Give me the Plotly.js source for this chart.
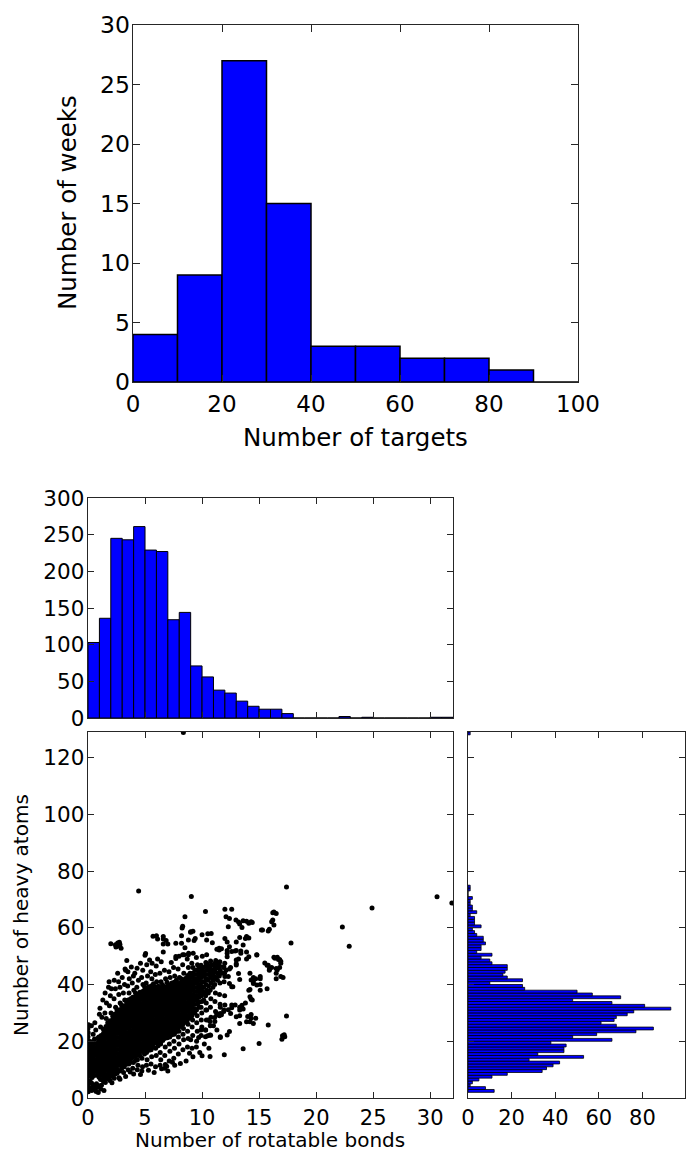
<!DOCTYPE html>
<html>
<head>
<meta charset="utf-8">
<script src="https://cdn.plot.ly/plotly-3.0.1.min.js"></script>
<style>
html,body{margin:0;padding:0;background:#fff;}
#chart{width:686px;height:1151px;}
</style>
</head>
<body>
<div id="chart"></div>
<script>
// ---------- Top chart: weeks per number of targets ----------
const targetBinStart = [0, 10, 20, 30, 40, 50, 60, 70, 80, 90];
const weeksCount = [4, 9, 27, 15, 3, 3, 2, 2, 1, 0];
const targetTicks = [0, 20, 40, 60, 80, 100];

// ---------- Middle histogram: rotatable bonds ----------
const bondBinStart = [0,1,2,3,4,5,6,7,8,9,10,11,12,13,14,15,16,17,18,19,20,21,22,23,24,25,26,27,28,29,30,31];
const bondCount = [103,136,245,243,261,229,227,134,144,71,56,38,34,23,16,12,12,6,0,0,0,0,2,0,1,0,0,0,0,0,1,1];

// ---------- Right histogram: heavy atoms ----------
const atomBinStart = [2,3,4,5,6,7,8,9,10,11,12,13,14,15,16,17,18,19,20,21,22,23,24,25,26,27,28,29,30,31,32,33,34,35,36,37,38,39,40,41,42,43,44,45,46,47,48,49,50,51,52,53,54,55,56,57,58,59,60,61,62,63,64,65,66,67,68,69,70,71,72,73,74,128];
const atomCount = [12,8,1,2,5,11,18,34,36,39,42,28,53,32,44,44,45,38,66,48,59,77,85,68,61,67,68,73,76,93,81,66,48,70,57,50,26,25,10,25,18,16,17,18,18,11,10,6,11,4,6,6,8,7,7,4,3,2,6,3,3,3,1,4,2,2,1,1,2,0,0,1,1,1];

// ---------- Scatter: [rotatable bonds, heavy atoms] ----------
const scatterPoints = [
[0.02,2.2],[0.05,3.4],[0,4.8],[0.03,6.2],[0,7.6],[0.06,9],[0,10.4],[0.04,11.8],[0,13.2],[0.05,14.6],[0,16],[0.03,17.4],[0,18.8],[0.06,20.2],[0,21.6],[0.02,23],[0,24.4],[0.05,25.8],
[0.33,2.6],[0.38,4.0],[0.31,5.3],[0.36,7.2],[0.4,8.6],[0.32,10],[0.37,11.4],[0.34,12.8],[0.41,14.2],[0.3,15.6],[0.36,17],[0.39,18.4],[0.33,19.8],[0.45,22.5],[0.3,25.5],
[0.72,2.3],[0.78,3.7],[0.74,5],[0.8,8],[0.71,9.4],[0.77,10.8],[0.73,12.2],[0.79,13.6],[0.75,15],[0.7,16.4],[0.78,17.8],[0.74,19.2],[0.82,21],[0.68,24],
[1.12,3.2],[1.18,4.5],[1.1,6.5],[1.16,8],[1.2,9.4],[1.13,10.8],[1.17,12.2],[1.11,13.6],[1.19,15],[1.14,16.4],[1.16,17.8],[1.12,19.2],[1.2,20.6],[1.15,22],[1.1,25],[1.22,28.5],[1.05,31.6],
[1.52,5.5],[1.58,7],[1.5,8.4],[1.57,9.8],[1.53,11.2],[1.6,12.6],[1.51,14],[1.56,15.4],[1.54,16.8],[1.59,18.2],[1.52,19.6],[1.57,21],[1.55,22.4],[1.5,23.8],[1.58,25.2],[1.6,28],[1.48,30],[1.62,33.5],[1.5,37],
[1.92,6.2],[1.98,7.6],[1.93,9],[1.97,10.4],[1.9,11.8],[1.99,13.2],[1.94,14.6],[1.96,16],[1.91,17.4],[2.0,18.8],[1.95,20.2],[1.93,21.6],[1.98,23],[1.92,24.4],[1.97,25.8],[1.94,27.2],[2.02,30],[1.88,32.5],[1.96,36],[2.05,38.5],[1.85,41],
[2.3,7],[2.38,8.5],[2.33,10],[2.37,11.4],[2.31,12.8],[2.39,14.2],[2.34,15.6],[2.36,17],[2.32,18.4],[2.4,19.8],[2.35,21.2],[2.33,22.6],[2.38,24],[2.31,25.4],[2.37,26.8],[2.34,28.2],[2.36,29.6],[2.42,32],[2.28,35],[2.4,38.5],[2.3,41.5],
[2.72,7.1],[2.78,9.5],[2.73,11.5],[2.77,12.9],[2.71,14.3],[2.79,15.7],[2.74,17.1],[2.76,18.5],[2.72,19.9],[2.8,21.3],[2.75,22.7],[2.73,24.1],[2.78,25.5],[2.71,26.9],[2.77,28.3],[2.74,29.7],[2.76,31.1],[2.82,33.5],[2.7,36.5],[2.8,39],[2.68,41],
[3.12,9],[3.18,11],[3.13,12.8],[3.17,14.2],[3.11,15.6],[3.19,17],[3.14,18.4],[3.16,19.8],[3.12,21.2],[3.2,22.6],[3.15,24],[3.13,25.4],[3.18,26.8],[3.11,28.2],[3.17,29.6],[3.14,31],[3.16,32.4],[3.22,34.5],[3.1,37],[3.2,40],[3.25,45.5],
[3.52,10],[3.58,12],[3.53,13.5],[3.57,14.9],[3.51,16.3],[3.59,17.7],[3.54,19.1],[3.56,20.5],[3.52,21.9],[3.6,23.3],[3.55,24.7],[3.53,26.1],[3.58,27.5],[3.51,28.9],[3.57,30.3],[3.54,31.7],[3.56,33.1],[3.52,34.5],[3.6,37],[3.48,39.5],[3.62,42],[3.5,44.5],
[3.92,10.5],[3.98,12.5],[3.93,14.5],[3.97,15.9],[3.91,17.3],[3.99,18.7],[3.94,20.1],[3.96,21.5],[3.92,22.9],[4.0,24.3],[3.95,25.7],[3.93,27.1],[3.98,28.5],[3.91,29.9],[3.97,31.3],[3.94,32.7],[3.96,34.1],[3.92,35.5],[4.02,38],[3.88,40.5],[3.98,43],
[4.32,10],[4.38,11.5],[4.33,13.5],[4.37,15.5],[4.31,16.9],[4.39,18.3],[4.34,19.7],[4.36,21.1],[4.32,22.5],[4.4,23.9],[4.35,25.3],[4.33,26.7],[4.38,28.1],[4.31,29.5],[4.37,30.9],[4.34,32.3],[4.36,33.7],[4.32,35.1],[4.38,36.5],[4.28,39],[4.42,41.5],[4.3,45.7],
[4.72,9.5],[4.78,11],[4.73,14],[4.77,16.5],[4.71,17.9],[4.79,19.3],[4.74,20.7],[4.76,22.1],[4.72,23.5],[4.8,24.9],[4.75,26.3],[4.73,27.7],[4.78,29.1],[4.71,30.5],[4.77,31.9],[4.74,33.3],[4.76,34.7],[4.72,36.1],[4.78,37.5],[4.82,40],[4.7,42.5],[4.8,45],
[5.12,11.5],[5.18,13.5],[5.13,16],[5.17,17.5],[5.11,18.9],[5.19,20.3],[5.14,21.7],[5.16,23.1],[5.12,24.5],[5.2,25.9],[5.15,27.3],[5.13,28.7],[5.18,30.1],[5.11,31.5],[5.17,32.9],[5.14,34.3],[5.16,35.7],[5.12,37.1],[5.18,38.5],[5.1,40.5],[5.22,43],[5.15,47],[5.0,50.3],[5.05,50.9],
[5.52,12],[5.58,14.5],[5.53,17],[5.57,18.6],[5.51,20],[5.59,21.4],[5.54,22.8],[5.56,24.2],[5.52,25.6],[5.6,27],[5.55,28.4],[5.53,29.8],[5.58,31.2],[5.51,32.6],[5.57,34],[5.54,35.4],[5.56,36.8],[5.52,38.2],[5.58,39.6],[5.6,42],[5.5,44.5],[5.62,47.5],
[5.92,11],[5.98,15],[5.93,17.5],[5.97,19.6],[5.91,21],[5.99,22.4],[5.94,23.8],[5.96,25.2],[5.92,26.6],[6.0,28],[5.95,29.4],[5.93,30.8],[5.98,32.2],[5.91,33.6],[5.97,35],[5.94,36.4],[5.96,37.8],[5.92,39.2],[6.02,41],[5.9,43.5],[5.98,46.5],
[6.32,11.5],[6.38,13.5],[6.33,16],[6.37,19],[6.31,20.6],[6.39,22],[6.34,23.4],[6.36,24.8],[6.32,26.2],[6.4,27.6],[6.35,29],[6.33,30.4],[6.38,31.8],[6.31,33.2],[6.37,34.6],[6.34,36],[6.36,37.4],[6.32,38.8],[6.4,41],[6.3,44],[6.42,48],
[6.72,10.5],[6.78,11.8],[6.73,15],[6.77,18],[6.71,21],[6.79,22.4],[6.74,23.8],[6.76,25.2],[6.72,26.6],[6.8,28],[6.75,29.4],[6.73,30.8],[6.78,32.2],[6.71,33.6],[6.77,35],[6.74,36.4],[6.76,37.8],[6.72,39.2],[6.8,42],[6.7,45],[6.85,55.5],
[7.12,13],[7.18,16.5],[7.13,19],[7.17,21.5],[7.11,23],[7.19,24.4],[7.14,25.8],[7.16,27.2],[7.12,28.6],[7.2,30],[7.15,31.4],[7.13,32.8],[7.18,34.2],[7.11,35.6],[7.17,37],[7.14,38.4],[7.16,39.8],[7.2,42.5],[7.1,44.5],
[7.52,14],[7.58,17.5],[7.53,20],[7.57,22.5],[7.51,24],[7.59,25.4],[7.54,26.8],[7.56,28.2],[7.52,29.6],[7.6,31],[7.55,32.4],[7.53,33.8],[7.58,35.2],[7.51,36.6],[7.57,38],[7.54,39.4],[7.56,40.8],[7.6,43],[7.5,46],
[7.92,15.5],[7.98,19],[7.93,21.5],[7.97,23.5],[7.91,25],[7.99,26.4],[7.94,27.8],[7.96,29.2],[7.92,30.6],[8.0,32],[7.95,33.4],[7.93,34.8],[7.98,36.2],[7.91,37.6],[7.97,39],[7.94,40.4],[8.02,42.5],[7.9,45.5],[7.98,50],
[8.32,17],[8.38,20.5],[8.33,22.5],[8.37,24.5],[8.31,26],[8.39,27.4],[8.34,28.8],[8.36,30.2],[8.32,31.6],[8.4,33],[8.35,34.4],[8.33,35.8],[8.38,37.2],[8.31,38.6],[8.37,40],[8.34,41.4],[8.4,44],[8.3,47],[8.42,50.5],
[8.72,18],[8.78,21],[8.73,23.5],[8.77,26],[8.71,27.5],[8.79,29],[8.74,30.5],[8.76,32],[8.72,33.4],[8.8,34.8],[8.75,36.2],[8.73,37.6],[8.78,39],[8.71,40.4],[8.77,41.8],[8.74,43.2],[8.8,46],[8.7,49],[8.82,51],
[9.12,17.5],[9.18,22],[9.13,25],[9.17,27.5],[9.11,29],[9.19,30.5],[9.14,32],[9.16,33.5],[9.12,35],[9.2,36.5],[9.15,38],[9.13,39.5],[9.18,41],[9.11,42.5],[9.17,44],[9.2,46],[9.1,47.5],[9.22,51],
[9.52,20],[9.58,23.5],[9.53,26.5],[9.57,29],[9.51,31],[9.59,33],[9.54,34.5],[9.56,36],[9.52,37.5],[9.6,39],[9.55,40.5],[9.53,42],[9.58,43.5],[9.51,45],[9.6,47],[9.5,49.5],
[9.92,22],[9.98,25],[9.93,27.5],[9.97,30],[9.91,32],[9.99,34],[9.94,36],[9.96,38],[9.92,39.5],[10.0,41],[9.95,42.5],[9.93,44],[9.98,45.5],[9.91,46.8],[10.02,50],
[10.32,24],[10.38,27.5],[10.33,31],[10.37,33.5],[10.31,36],[10.39,38],[10.34,40],[10.36,42],[10.32,43.5],[10.4,45],[10.35,46.5],[10.33,47.8],[10.4,50.5],
[10.72,25.5],[10.78,28.5],[10.73,32],[10.77,35],[10.71,38],[10.79,40.5],[10.74,42.5],[10.76,44],[10.72,45.5],[10.8,47],[10.75,48.3],
[11.12,27],[11.18,30.5],[11.13,34],[11.17,37],[11.11,40],[11.19,42.5],[11.14,44.5],[11.16,46],[11.12,47.5],[11.2,48.5],
[11.52,29],[11.58,33],[11.53,36.5],[11.57,40.5],[11.51,43],[11.59,45],[11.54,46.5],[11.56,48],
[11.92,31],[11.98,36],[11.93,41],[11.97,44],[11.91,46],[11.99,47.5],
[0.15,3.1],[0.18,5.9],[0.13,8.3],[0.17,9.7],[0.14,11.1],[0.19,12.5],[0.15,13.9],[0.12,15.3],[0.18,16.7],[0.16,18.1],[0.14,19.5],
[0.55,3.0],[0.58,4.5],[0.53,7.9],[0.57,9.3],[0.54,10.7],[0.59,12.1],[0.55,13.5],[0.52,14.9],[0.58,16.3],[0.56,17.7],[0.54,19.1],[0.57,20.8],
[0.95,4.3],[0.97,7.3],[0.93,8.7],[0.98,10.1],[0.94,11.5],[0.96,12.9],[0.92,14.3],[0.97,15.7],[0.95,17.1],[0.93,18.5],[0.98,19.9],[0.94,21.5],
[1.35,5.9],[1.37,7.4],[1.33,8.8],[1.38,10.2],[1.34,11.6],[1.36,13],[1.32,14.4],[1.37,15.8],[1.35,17.2],[1.33,18.6],[1.38,20],[1.34,21.4],[1.36,22.8],[1.35,24.2],
[1.75,6.8],[1.77,8.2],[1.73,9.6],[1.78,11],[1.74,12.4],[1.76,13.8],[1.72,15.2],[1.77,16.6],[1.75,18],[1.73,19.4],[1.78,20.8],[1.74,22.2],[1.76,23.6],[1.75,25],[1.73,26.5],
[2.15,7.8],[2.17,9.2],[2.13,10.6],[2.18,12],[2.14,13.4],[2.16,14.8],[2.12,16.2],[2.17,17.6],[2.15,19],[2.13,20.4],[2.18,21.8],[2.14,23.2],[2.16,24.6],[2.15,26],[2.13,27.4],[2.17,28.8],
[2.55,8.7],[2.57,10.1],[2.53,11.5],[2.58,12.9],[2.54,14.3],[2.56,15.7],[2.52,17.1],[2.57,18.5],[2.55,19.9],[2.53,21.3],[2.58,22.7],[2.54,24.1],[2.56,25.5],[2.55,26.9],[2.53,28.3],[2.57,29.7],[2.54,31],
[2.95,10.4],[2.97,11.8],[2.93,13.2],[2.98,14.6],[2.94,16],[2.96,17.4],[2.92,18.8],[2.97,20.2],[2.95,21.6],[2.93,23],[2.98,24.4],[2.94,25.8],[2.96,27.2],[2.95,28.6],[2.93,30],[2.97,31.4],[2.94,32.8],
[3.35,11.9],[3.37,13.3],[3.33,14.7],[3.38,16.1],[3.34,17.5],[3.36,18.9],[3.32,20.3],[3.37,21.7],[3.35,23.1],[3.33,24.5],[3.38,25.9],[3.34,27.3],[3.36,28.7],[3.35,30.1],[3.33,31.5],[3.37,32.9],[3.34,34.3],
[3.75,12.6],[3.77,14],[3.73,15.4],[3.78,16.8],[3.74,18.2],[3.76,19.6],[3.72,21],[3.77,22.4],[3.75,23.8],[3.73,25.2],[3.78,26.6],[3.74,28],[3.76,29.4],[3.75,30.8],[3.73,32.2],[3.77,33.6],[3.74,35],
[4.15,13.2],[4.17,14.6],[4.13,16],[4.18,17.4],[4.14,18.8],[4.16,20.2],[4.12,21.6],[4.17,23],[4.15,24.4],[4.13,25.8],[4.18,27.2],[4.14,28.6],[4.16,30],[4.15,31.4],[4.13,32.8],[4.17,34.2],[4.14,35.6],[4.16,37],
[4.55,14.9],[4.57,16.3],[4.53,17.7],[4.58,19.1],[4.54,20.5],[4.56,21.9],[4.52,23.3],[4.57,24.7],[4.55,26.1],[4.53,27.5],[4.58,28.9],[4.54,30.3],[4.56,31.7],[4.55,33.1],[4.53,34.5],[4.57,35.9],[4.54,37.3],
[4.95,15.5],[4.97,16.9],[4.93,18.3],[4.98,19.7],[4.94,21.1],[4.96,22.5],[4.92,23.9],[4.97,25.3],[4.95,26.7],[4.93,28.1],[4.98,29.5],[4.94,30.9],[4.96,32.3],[4.95,33.7],[4.93,35.1],[4.97,36.5],[4.94,37.9],[4.96,39.2],
[5.35,16.8],[5.37,18.2],[5.33,19.6],[5.38,21],[5.34,22.4],[5.36,23.8],[5.32,25.2],[5.37,26.6],[5.35,28],[5.33,29.4],[5.38,30.8],[5.34,32.2],[5.36,33.6],[5.35,35],[5.33,36.4],[5.37,37.8],[5.34,39.2],
[5.75,17.9],[5.77,19.3],[5.73,20.7],[5.78,22.1],[5.74,23.5],[5.76,24.9],[5.72,26.3],[5.77,27.7],[5.75,29.1],[5.73,30.5],[5.78,31.9],[5.74,33.3],[5.76,34.7],[5.75,36.1],[5.73,37.5],[5.77,38.9],[5.74,40.3],
[6.15,18.4],[6.17,19.8],[6.13,21.2],[6.18,22.6],[6.14,24],[6.16,25.4],[6.12,26.8],[6.17,28.2],[6.15,29.6],[6.13,31],[6.18,32.4],[6.14,33.8],[6.16,35.2],[6.15,36.6],[6.13,38],[6.17,39.4],
[6.55,20.3],[6.57,21.7],[6.53,23.1],[6.58,24.5],[6.54,25.9],[6.56,27.3],[6.52,28.7],[6.57,30.1],[6.55,31.5],[6.53,32.9],[6.58,34.3],[6.54,35.7],[6.56,37.1],[6.55,38.5],[6.53,39.9],
[6.95,21.2],[6.97,22.6],[6.93,24],[6.98,25.4],[6.94,26.8],[6.96,28.2],[6.92,29.6],[6.97,31],[6.95,32.4],[6.93,33.8],[6.98,35.2],[6.94,36.6],[6.96,38],[6.95,39.4],[6.93,40.8],
[7.35,22.3],[7.37,23.7],[7.33,25.1],[7.38,26.5],[7.34,27.9],[7.36,29.3],[7.32,30.7],[7.37,32.1],[7.35,33.5],[7.33,34.9],[7.38,36.3],[7.34,37.7],[7.36,39.1],[7.35,40.5],
[7.75,23.4],[7.77,24.8],[7.73,26.2],[7.78,27.6],[7.74,29],[7.76,30.4],[7.72,31.8],[7.77,33.2],[7.75,34.6],[7.73,36],[7.78,37.4],[7.74,38.8],[7.76,40.2],[7.75,41.5],
[8.15,25.2],[8.17,26.6],[8.13,28],[8.18,29.4],[8.14,30.8],[8.16,32.2],[8.12,33.6],[8.17,35],[8.15,36.4],[8.13,37.8],[8.18,39.2],[8.14,40.6],[8.16,42],
[8.55,26.7],[8.57,28.1],[8.53,29.5],[8.58,30.9],[8.54,32.3],[8.56,33.7],[8.52,35.1],[8.57,36.5],[8.55,37.9],[8.53,39.3],[8.58,40.7],[8.54,42.1],
[8.95,28.2],[8.97,29.7],[8.93,31.2],[8.98,32.7],[8.94,34.1],[8.96,35.5],[8.92,36.9],[8.97,38.3],[8.95,39.7],[8.93,41.1],[8.98,42.5],[8.94,44],
[9.35,30],[9.37,31.5],[9.33,33],[9.38,34.5],[9.34,36],[9.36,37.5],[9.32,39],[9.37,40.5],[9.35,42],[9.33,43.5],[9.38,45],
[9.75,32],[9.77,33.8],[9.73,35.5],[9.78,37],[9.74,38.5],[9.76,40],[9.72,41.5],[9.77,43],[9.75,44.5],[9.73,46],
[10.15,34.5],[10.17,37],[10.13,39],[10.18,41],[10.14,43],[10.16,44.5],[10.12,46],
[10.55,37],[10.57,39.5],[10.53,41.5],[10.58,43.5],[10.54,45],[10.56,46.5],
[10.95,39],[10.97,41.5],[10.93,43.5],[10.98,45],[10.94,46.8],
[11.35,41.5],[11.37,44],[11.33,45.8],[11.38,47.2],
[9.5,18],[9.8,16],[10.2,19],[9.2,14.5],[8.6,13],[8.1,12.2],[7.6,11.5],[7.0,9.5],[6.45,10.3],[5.8,9.0],[6.9,11.2],[9.0,20.5],[9.9,24],[11.0,25.5],[11.3,24],[4.0,8.5],[3.3,7.6],[2.8,6.6],[2.1,5.4],[1.4,2.6],[0.9,1.9],[5.3,9.8],[4.6,8.3],[3.7,9.2],[7.4,12.6],[8.9,15.8],[10.6,17.5],[9.7,21.3],
[1.8,39],[2.6,44],[3.0,42.5],[3.8,46.2],[4.1,44],[4.6,47.5],[5.4,48.6],[6.1,49],[6.6,51.5],[7.3,47.8],[7.7,49.9],[7.7,49.2],[8.3,50.5],[8.5,53],[8.8,50.5],[9.3,55.5],[7.7,54.5],[8.2,57.2],[8.2,54.5],[8.8,55.7],[6.6,54.3],[5.7,57],[6.0,57.2],[6.1,56],[6.6,56.9],[6.6,56.0],[7.0,54.3],[9.0,58.6],[9.2,58.8],[0.6,26.5],[1.0,29.5],[1.3,34.5],[3.3,45],[3.4,48.5],
[2.0,54.4],[2.4,54.0],[2.6,54.6],[2.75,54.9],[2.8,54.1],[2.9,52.8],[2.65,53.6],[2.45,53.2],
[10.0,57.5],[10.5,57.9],[10.8,58.0],[10.4,55.7],[10.9,54.7],[9.4,56.2],[9.0,58.4],
[12.1,63.9],[12.4,63.3],[12.97,62.7],[13.3,61.3],[13.5,60.1],[14.1,61.6],[14.4,61.9],[16.3,65.6],[16.5,65.0],[16.1,62.1],[16.3,61.0],[15.3,59.2],[15.8,58.9],
[11.3,52.4],[11.5,52.8],[11.7,52.6],[12.0,56.2],[12.2,55.0],[12.4,53.3],[12.6,51.6],[12.9,51.8],[13.2,49.0],[13.6,53.9],[13.9,51.5],[14.1,49.8],[13.8,56.2],[14.1,56.4],[14.8,50.4],[15.5,47.6],[15.8,46.8],[15.9,45.0],[16.1,46.0],[16.4,49.3],[16.7,48.8],[16.9,48.2],[16.8,46.0],[16.6,45.2],[17.1,42.5],[16.5,42.0],[15.1,42.8],[14.7,42.0],[14.3,41.6],[14.5,41.0],[14.8,39.8],[15.1,38.0],[14.2,35.7],[14.4,34.5],[13.8,33.5],[13.3,32.0],[14.0,28.7],[14.3,28.1],[12.9,32.8],[12.6,31.8],[12.3,31.1],[11.6,32.0],[11.9,30.5],[11.3,29.8],[11.7,29.3],[12.4,40.4],[12.7,39.2],[12.0,42.8],[12.1,45.0],[12.5,46.0],[13.0,47.3],[11.5,44.0],[11.1,42.8],[10.7,46.3],[10.4,47.5],
[17.4,28.9],[17.2,22.3],[17.25,21.6],[15.8,25.7],[14.2,26.9],[14.5,26.3],[13.3,26.3],[12.5,29.8],[13.0,28.6],[11.6,21.6],[10.7,22.2],[13.9,26.9],[13.3,29.0],[14.7,28.1],[12.2,22.2],[12.4,23.4],[10.3,24.0],[10.3,21.6],[10.5,21.9],[10.55,27.5],[10.7,27.0],[10.4,31.0],[11.1,28.4],[11.3,29.3],[11.6,29.8],[12.0,32.8],[12.6,32.8],[13.3,31.0],[13.5,32.7],[13.6,31.4],[14.3,29.4],[14.3,34.8],[14.1,38.0],[14.2,38.2],[12.6,39.2],[13.3,41.8],[13.2,43.9],[12.3,42.8],[12.4,45.5],[11.9,46.3],[12.2,49.8],[11.75,44.0],[15.7,38.5],[15.1,40.0],[15.1,42.0],[14.5,42.5],[14.5,40.4],[14.2,44.0],[13.9,49.0],[13.0,48.6],[13.0,46.9],[13.4,51.0],[13.4,51.8],[13.0,52.0],[13.0,55.0],[12.2,51.0],[12.2,52.0],[11.5,52.2],[13.3,56.6],[13.9,56.9],[15.2,59.2],[15.9,59.5],[16.2,62.7],[16.2,65.3],[14.8,50.5],[15.7,46.8],[15.9,45.5],[16.3,49.6],[16.6,49.6],[16.8,48.8],[16.9,47.5],[16.5,44.0],[16.5,45.6],[13.2,62.0],[13.6,62.5],[13.9,62.3],[14.3,62.1],[12.3,60.4],
[8.36,128.8],[4.44,73.0],[9.06,71.0],[17.4,74.4],[30.6,70.9],[31.9,68.7],[24.9,67.0],[22.3,60.3],[22.9,53.5],[17.8,54.6],[17.05,21.9],[17.0,20.7],[16.9,42.8],[15.0,19.2],[13.6,17.4],[11.95,15.2],[10.0,14.9],[10.7,14.6],[11.6,21.3],[10.75,22.1],[8.5,63.9],[10.3,65.7],[12.0,66.5],[12.6,66.5],[8.3,60.5],[8.25,59.9]
];
const bondsX = scatterPoints.map(p => p[0]);
const atomsY = scatterPoints.map(p => p[1]);

// ---------- styling ----------
const W = 686, H = 1151;
const FONT = "DejaVu Sans";
const BLUE = "#0000ff";
const SPINE = "#262626";
function xd(a, b) { return [a / W, b / W]; }
function yd(top, bottom) { return [1 - bottom / H, 1 - top / H]; }
function axis(extra, fs, tl) {
  return Object.assign({
    showline: true, linecolor: SPINE, linewidth: 1.3, mirror: "allticks",
    ticks: "inside", ticklen: tl, tickwidth: 1, tickcolor: SPINE,
    showgrid: false, zeroline: false, automargin: false, fixedrange: true,
    tickfont: { family: FONT, size: fs, color: "#000" }
  }, extra);
}

const traces = [
  { type: "bar", x: targetBinStart, y: weeksCount, width: 10, offset: 0,
    marker: { color: BLUE, line: { color: "#000", width: 1.5 } },
    xaxis: "x", yaxis: "y", hoverinfo: "skip" },
  { type: "bar", x: bondBinStart, y: bondCount, width: 1, offset: 0,
    marker: { color: BLUE, line: { color: "#000", width: 1 } },
    xaxis: "x2", yaxis: "y2", hoverinfo: "skip" },
  { type: "scatter", mode: "markers", x: bondsX, y: atomsY,
    marker: { color: "#000", size: 5, line: { width: 0 } },
    xaxis: "x3", yaxis: "y3", hoverinfo: "skip" },
  { type: "bar", orientation: "h", y: atomBinStart, x: atomCount, width: 1, offset: 0,
    marker: { color: BLUE, line: { color: "#000", width: 0.8 } },
    xaxis: "x4", yaxis: "y4", hoverinfo: "skip" }
];

const layout = {
  width: W, height: H, showlegend: false,
  margin: { l: 0, r: 0, t: 0, b: 0 },
  paper_bgcolor: "#fff", plot_bgcolor: "#fff",
  font: { family: FONT, color: "#000" },
  xaxis: axis({ domain: xd(133, 578), anchor: "y", range: [0, 100], tickvals: targetTicks, ticklabelstandoff: 1 }, 23, 7),
  yaxis: axis({ domain: yd(25, 382), anchor: "x", range: [0, 30], dtick: 5, tick0: 0, ticklabelstandoff: -3 }, 23.5, 7),
  xaxis2: axis({ domain: xd(88, 453), anchor: "y2", range: [0, 32], dtick: 5, tick0: 0, showticklabels: false }, 21, 6),
  yaxis2: axis({ domain: yd(498, 718), anchor: "x2", range: [0, 300], dtick: 50, tick0: 0, ticklabelstandoff: -2 }, 21.5, 6),
  xaxis3: axis({ domain: xd(88, 453), anchor: "y3", range: [0, 32], dtick: 5, tick0: 0 }, 21, 6),
  yaxis3: axis({ domain: yd(732, 1098), anchor: "x3", range: [0, 129], dtick: 20, tick0: 0, ticklabelstandoff: -2 }, 21.5, 6),
  xaxis4: axis({ domain: xd(468, 685), anchor: "y4", range: [0, 99.5], tickvals: [0, 20, 40, 60, 80] }, 21, 6),
  yaxis4: axis({ domain: yd(732, 1098), anchor: "x4", range: [0, 129], dtick: 20, tick0: 0, showticklabels: false }, 21, 6),
  annotations: [
    { text: "Number of targets", xref: "paper", yref: "paper", x: 355 / W, y: 1 - 437 / H,
      xanchor: "center", yanchor: "middle", showarrow: false, font: { family: FONT, size: 24.5, color: "#000" } },
    { text: "Number of weeks", xref: "paper", yref: "paper", x: 68 / W, y: 1 - 203 / H, textangle: -90,
      xanchor: "center", yanchor: "middle", showarrow: false, font: { family: FONT, size: 24.5, color: "#000" } },
    { text: "Number of rotatable bonds", xref: "paper", yref: "paper", x: 270 / W, y: 1 - 1140 / H,
      xanchor: "center", yanchor: "middle", showarrow: false, font: { family: FONT, size: 20, color: "#000" } },
    { text: "Number of heavy atoms", xref: "paper", yref: "paper", x: 21 / W, y: 1 - 915 / H, textangle: -90,
      xanchor: "center", yanchor: "middle", showarrow: false, font: { family: FONT, size: 20, color: "#000" } }
  ]
};

Plotly.newPlot("chart", traces, layout, { staticPlot: true, displayModeBar: false });
</script>
</body>
</html>
